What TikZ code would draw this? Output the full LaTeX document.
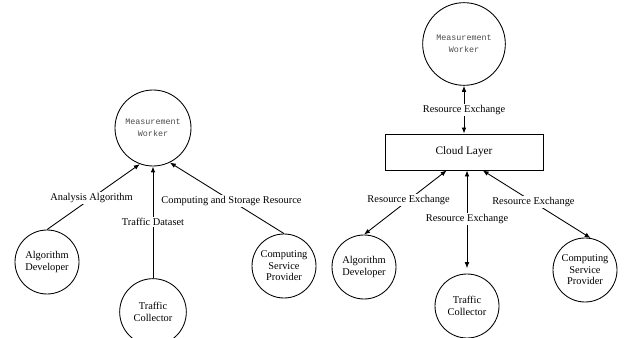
\documentclass[tikz,border=0pt]{standalone}
\usepackage{fontspec}
\setmainfont{Liberation Serif}
\newfontfamily\workerfont{Liberation Mono}
\usetikzlibrary{arrows.meta}

\tikzset{
	rolepicture/.style = {
		x = 0.75pt,
		y = -0.75pt,
		font = \fontsize{7.8}{8.6}\selectfont,
		> = {Latex[length=4.5pt, width=3.5pt]},
		arrow/.style = {
			draw,
			->,
			line width = 0.65pt,
		}
	},
	rolenode/.style = {
		circle,
		draw = black,
		line width = 0.65pt,
		minimum size = 48pt,
		inner sep = 0pt,
		align = center
	},
	workernode/.style = {
		rolenode,
		minimum size = 57pt,
		text = black!70,
		font = \workerfont\fontsize{6.3}{8.8}\selectfont
	},
	layernode/.style = {
		rectangle,
		draw = black,
		line width = 0.65pt,
		minimum width = 118.5pt,
		minimum height = 27pt,
		font = \fontsize{8.5}{10}\selectfont
	},
	flowlabel/.style = {
		fill = white,
		inner sep = 1pt
	},
	exchange-arrow/.style = {
		<->
	}
}

\begin{document}
\begin{tikzpicture}[rolepicture]
	\useasboundingbox (0,0) rectangle (630,338);

	% without cloud layer
	\node[workernode] (lMW) at (153,128) {Measurement\\Worker};
	\node[rolenode] (lAD) at (47,262) {Algorithm\\Developer};
	\node[rolenode, minimum size = 50pt] (lTC) at (153,312) {Traffic\\Collector};
	\node[rolenode] (lCSP) at (284,266) {Computing\\Service\\Provider};

	\begin{scope}[every path/.style = arrow]
		\path (lAD.north) to node[flowlabel, pos = 0.48] {Analysis Algorithm} (lMW.250);
		\path (lTC.north) to node[flowlabel, pos = 0.5] {Traffic Dataset} (lMW.south);
		\path (lCSP.north) to node[flowlabel, pos = 0.46] {Computing and Storage Resource} (lMW.296);
	\end{scope}

	% with cloud layer
	\node[workernode, minimum size = 62pt] (rMW) at (464,44) {Measurement\\Worker};
	\node[layernode] (CL) at (464,152) {Cloud Layer};
	\node[rolenode] (rAD) at (364,267) {Algorithm\\Developer};
	\node[rolenode] (rTC) at (467,306) {Traffic\\Collector};
	\node[rolenode] (rCSP) at (585,270) {Computing\\Service\\Provider};

	\begin{scope}[every path/.style = {arrow, exchange-arrow}]
		\path (rMW.south) to node[flowlabel] {Resource Exchange} (CL.north);
		\path ([xshift=-13pt]CL.south) to node[flowlabel, pos = 0.46] {Resource Exchange} (rAD.north);
		\path[shorten >= 4pt] (rTC |- CL.south) to node[flowlabel, pos = 0.47] {Resource Exchange} (rTC.north);
		\path ([xshift=14pt]CL.south) to node[flowlabel, pos = 0.47] {Resource Exchange} (rCSP.80);
	\end{scope}
\end{tikzpicture}
\end{document}
